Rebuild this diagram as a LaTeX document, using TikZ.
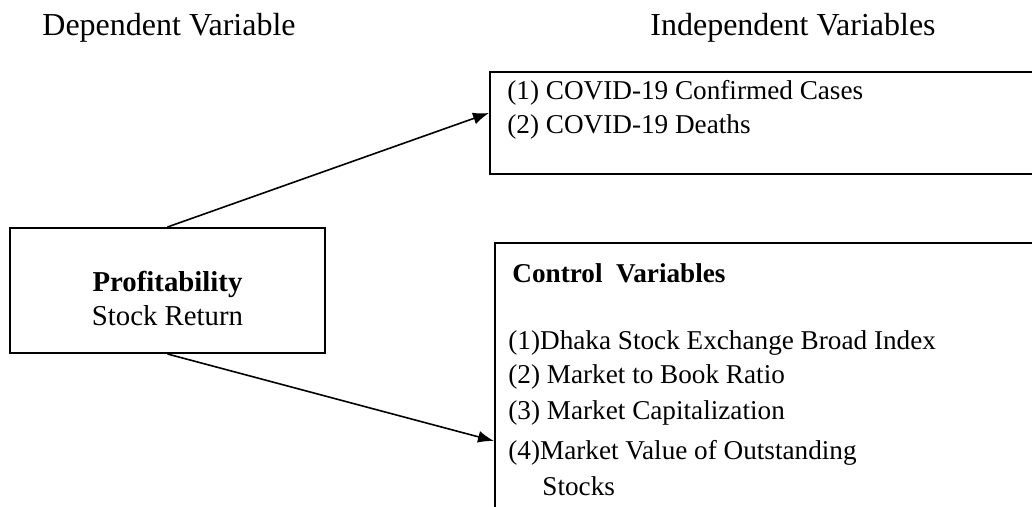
\documentclass[tikz,border=0pt]{standalone}
\usepackage{fontspec}
\setmainfont{Liberation Serif}
\usetikzlibrary{positioning,arrows.meta}

\begin{document}
\begin{tikzpicture}[
  x=0.5pt, y=-0.5pt,
  font=\fontsize{13.6}{17}\selectfont, >={Latex[length=8pt,width=6pt]},
  bx/.style={draw,line width=1pt,inner sep=0pt},
  hd/.style={font=\fontsize{16}{19}\selectfont,anchor=base west,inner sep=0pt},
  ln/.style={anchor=base west,inner sep=0pt}
]
\useasboundingbox (0,0) rectangle (1032,507);
\begin{scope}
\clip (0,0) rectangle (1032,507);
\node[bx,minimum width=157.5pt,minimum height=62.5pt] (dep) at (167.5,290.5) {};
\node[bx,anchor=north west,minimum width=330pt,minimum height=51pt] (cov) at (489,71) {};
\node[bx,anchor=north west,minimum width=330pt,minimum height=198pt] (ctrl) at (494,242) {};
\end{scope}
\node[align=center,inner sep=0pt,font=\fontsize{14.4}{17}\selectfont] (deptx) at ([yshift=-4pt]dep.center) {\textbf{Profitability}\\Stock Return};
% headings
\node[hd] (hdep) at (42,36) {Dependent Variable};
\node[hd] (hind) at (650,36) {Independent Variables};
% independent variables
\node[ln] (c1) at (507,100) {(1) COVID-19 Confirmed Cases};
\node[ln] (c2) at (507,134) {(2) COVID-19 Deaths};
% control variables
\node[ln] (cv) at (512,283) {\textbf{Control\ \ Variables}};
\node[ln] (v1) at (508,350) {(1)Dhaka Stock Exchange Broad Index};
\node[ln] (v2) at (508,383) {(2) Market to Book Ratio};
\node[ln] (v3) at (508,419) {(3) Market Capitalization};
\node[ln] (v4) at (508,459) {(4)Market Value of Outstanding};
\node[ln] (v5) at (542,495) {Stocks};
\draw[->,line width=0.8pt] (dep.north) -- ([yshift=5pt]cov.west);
\draw[->,line width=0.8pt] (dep.south) -- (ctrl.west);
\end{tikzpicture}
\end{document}
